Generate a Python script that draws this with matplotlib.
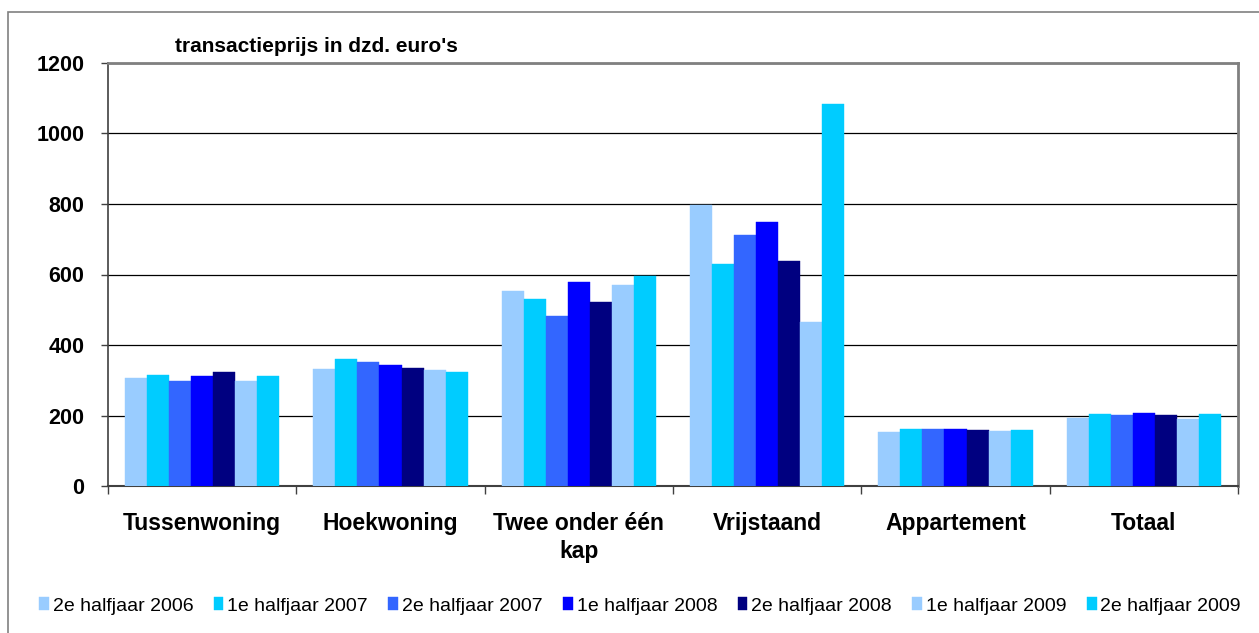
import matplotlib
matplotlib.use('Agg')
import matplotlib.pyplot as plt
from matplotlib.patches import Rectangle
import numpy as np

plt.rcParams['font.family'] = ['Liberation Sans', 'DejaVu Sans']

# woningtypen en halfjaren
categories = ['Tussenwoning', 'Hoekwoning', 'Twee onder één\nkap',
              'Vrijstaand', 'Appartement', 'Totaal']
series = ['2e halfjaar 2006', '1e halfjaar 2007', '2e halfjaar 2007',
          '1e halfjaar 2008', '2e halfjaar 2008', '1e halfjaar 2009',
          '2e halfjaar 2009']
colors = ['#99CCFF', '#00CCFF', '#3366FF', '#0000FF', '#000080',
          '#99CCFF', '#00CCFF']

# transactieprijs (dzd. euro) per woningtype, per halfjaar
h2_2006 = [307, 333, 553, 796, 152, 194]
h1_2007 = [316, 359, 530, 630, 161, 204]
h2_2007 = [297, 353, 482, 712, 161, 201]
h1_2008 = [311, 343, 578, 749, 163, 208]
h2_2008 = [322, 335, 521, 637, 158, 202]
h1_2009 = [297, 329, 570, 464, 155, 190]
h2_2009 = [311, 323, 597, 1084, 158, 204]
values = [h2_2006, h1_2007, h2_2007, h1_2008, h2_2008, h1_2009, h2_2009]

yticks = [0, 200, 400, 600, 800, 1000, 1200]

W, H = 1259, 633
fig = plt.figure(figsize=(W / 100, H / 100), dpi=100)
ax = fig.add_axes([108 / W, 147 / H, 1130 / W, 423 / H])

x = np.arange(len(categories))
bw = 0.117
for i, (name, vals) in enumerate(zip(series, values)):
    offs = (i - 3) * bw
    ax.bar(x + offs, vals, width=bw, color=colors[i], label=name,
           edgecolor=colors[i], linewidth=0.3, zorder=3)

ax.set_xlim(-0.5, len(categories) - 0.5)
ax.set_ylim(0, 1200)
ax.set_yticks(yticks)
ax.set_yticklabels([str(v) for v in yticks], fontsize=15.5, fontweight='bold')
ax.yaxis.grid(True, color='#000000', linewidth=0.9, zorder=0)
ax.tick_params(axis='y', direction='out', length=5, width=1, pad=12,
               color='#404040')

ax.set_xticks(x)
ax.set_xticklabels(categories, fontsize=16.5, fontweight='bold',
                   linespacing=1.25)
ax.set_xticks(np.arange(len(categories) + 1) - 0.5, minor=True)
ax.tick_params(axis='x', which='major', length=0, pad=19)
ax.tick_params(axis='x', which='minor', direction='out', length=6,
               width=1, color='#404040')

for s in ['top', 'right']:
    ax.spines[s].set_color('#808080')
    ax.spines[s].set_linewidth(2)
ax.spines['left'].set_color('#404040')
ax.spines['left'].set_linewidth(1.2)
ax.spines['bottom'].set_color('#404040')
ax.spines['bottom'].set_linewidth(1.5)

fig.text(175 / W, 1 - 46 / H, "transactieprijs in dzd. euro's",
         fontsize=15, fontweight='bold', va='center', ha='left')

fig.legend(loc='center', bbox_to_anchor=(640 / W, 1 - 606 / H), ncol=7,
           frameon=False, fontsize=14, handlelength=0.5, handleheight=0.6,
           handletextpad=0.2, columnspacing=1.05, borderpad=0, borderaxespad=0)

# outer chart frame
fig.patches.append(Rectangle((8 / W, -0.1), 1.2, (H - 12) / H + 0.1,
                             transform=fig.transFigure, fill=False,
                             edgecolor='#808080', linewidth=1.2))

fig.savefig('out.png', dpi=100)
